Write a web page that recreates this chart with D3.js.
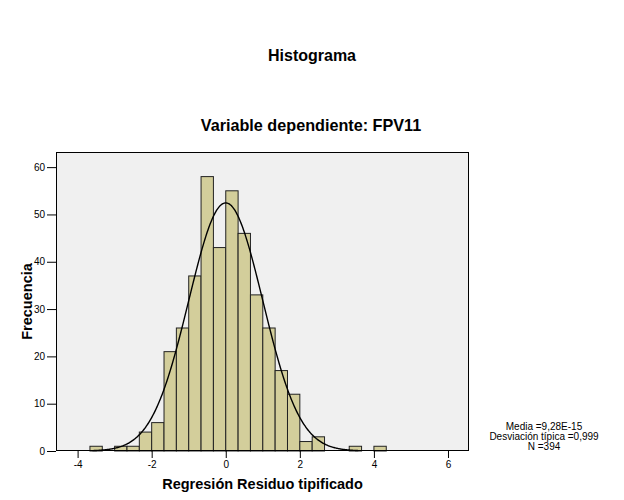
<!DOCTYPE html>
<html><head><meta charset="utf-8">
<script src="https://cdn.jsdelivr.net/npm/d3@7"></script>
<style>body{margin:0;background:#fff}svg{display:block;font-family:"Liberation Sans",Arial,sans-serif}</style>
</head><body>
<svg id="c" width="624" height="500"></svg>
<script>
// Bin edges (left edge) of width 1/3 and counts
const binWidth = 1/3;
const binStarts = [-11,-9,-8,-7,-6,-5,-4,-3,-2,-1,0,1,2,3,4,5,6,7,10,12].map(k=>k/3);
const binCounts = [1,1,1,4,6,21,26,37,58,43,55,46,33,26,17,12,2,3,1,1];
const xTicks = [-4,-2,0,2,4,6];
const yTicks = [0,10,20,30,40,50,60];
const stats = {mean:9.28e-15, sd:0.999, n:394};
const statLines = ["Media =9,28E-15","Desviación típica =0,999","N =394"];

const svg = d3.select("#c");
const L=56,R=469,T=152,B=451;
const x = d3.scaleLinear().domain([-4.583,6.567]).range([L,R]);
const y = d3.scaleLinear().domain([0,63.2]).range([B,T]);

svg.append("rect").attr("x",L).attr("y",T).attr("width",R-L).attr("height",B-T).attr("fill","#f0f0f0");

svg.append("g").selectAll("rect").data(binStarts.map((s,i)=>({s,c:binCounts[i]}))).join("rect")
  .attr("x",d=>x(d.s)).attr("width",d=>x(d.s+binWidth)-x(d.s))
  .attr("y",d=>y(d.c)).attr("height",d=>y(0)-y(d.c))
  .attr("fill","#d3ce9b").attr("stroke","#222").attr("stroke-width",1);

// normal curve
const pts=[];
for(let v=-3.6; v<=3.6; v+=0.02){
  const dens = stats.n*binWidth/(stats.sd*Math.sqrt(2*Math.PI))*Math.exp(-0.5*((v-stats.mean)/stats.sd)**2);
  pts.push([v,dens]);
}
svg.append("path").datum(pts).attr("fill","none").attr("stroke","#000").attr("stroke-width",1.4)
  .attr("d",d3.line().x(d=>x(d[0])).y(d=>y(d[1])).curve(d3.curveBasis));

svg.append("rect").attr("x",L+0.5).attr("y",T+0.5).attr("width",R-L-1).attr("height",B-T-1).attr("fill","none").attr("stroke","#000");

const xa = svg.append("g").attr("transform",`translate(0,${B})`)
  .call(d3.axisBottom(x).tickValues(xTicks).tickSize(7).tickPadding(3).tickFormat(d3.format("d")));
const ya = svg.append("g").attr("transform",`translate(${L},0)`)
  .call(d3.axisLeft(y).tickValues(yTicks).tickSize(9).tickPadding(2).tickFormat(d3.format("d")));
[xa,ya].forEach(g=>{g.select(".domain").remove();g.selectAll("text").attr("font-size",10).attr("font-family","Liberation Sans, Arial").attr("fill","#000");g.selectAll("line").attr("stroke","#000");});
xa.selectAll("text").text(d=>d<0?"-"+Math.abs(d):d);

svg.append("text").attr("x",312).attr("y",61).attr("text-anchor","middle").attr("font-size",16).attr("font-weight","bold").text("Histograma");
svg.append("text").attr("x",311).attr("y",131).attr("text-anchor","middle").attr("font-size",16.2).attr("font-weight","bold").text("Variable dependiente: FPV11");
svg.append("text").attr("x",(L+R)/2).attr("y",489).attr("text-anchor","middle").attr("font-size",14.5).attr("font-weight","bold").text("Regresión Residuo tipificado");
svg.append("text").attr("transform",`translate(32,${(T+B)/2}) rotate(-90)`).attr("text-anchor","middle").attr("font-size",14.5).attr("font-weight","bold").text("Frecuencia");

svg.append("g").selectAll("text").data(statLines).join("text")
  .attr("x",544).attr("y",(d,i)=>430+i*10.2).attr("text-anchor","middle").attr("font-size",10).text(d=>d);
</script>
</body></html>
